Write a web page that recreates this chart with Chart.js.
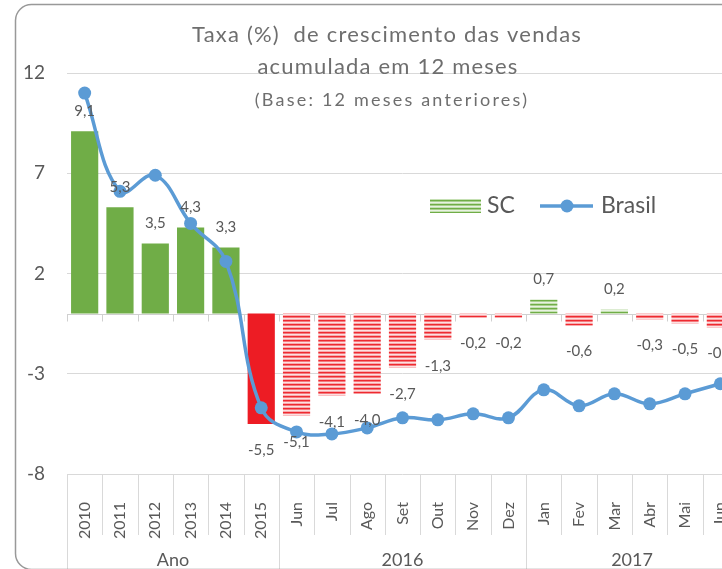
<!DOCTYPE html>
<html>
<head>
<meta charset="utf-8">
<title>Taxa de crescimento das vendas</title>
<script src="https://cdn.jsdelivr.net/npm/chart.js@4.4.0/dist/chart.umd.min.js"></script>
<style>
  html, body { margin: 0; padding: 0; background: #fff; overflow: hidden; }
  #wrap { position: relative; width: 752px; height: 575px; }
</style>
</head>
<body>
<div id="wrap"><canvas id="grafico"></canvas></div>
<script>
// categorias do eixo x e grupos (linha de baixo)
var categorias = ['2010', '2011', '2012', '2013', '2014', '2015',
  'Jun', 'Jul', 'Ago', 'Set', 'Out', 'Nov', 'Dez',
  'Jan', 'Fev', 'Mar', 'Abr', 'Mai', 'Jun'];
var grupos = ['Ano', '2016', '2017'];
var tamanhoGrupos = [6, 7, 6];

// series
var valoresSC = [9.1, 5.3, 3.5, 4.3, 3.3, -5.5, -5.1, -4.1, -4.0, -2.7, -1.3, -0.2, -0.2, 0.7, -0.6, 0.2, -0.3, -0.5, -0.7];
var valoresBrasil = [11.0, 6.1, 6.9, 4.5, 2.6, -4.7, -5.9, -6.0, -5.7, -5.2, -5.3, -5.0, -5.2, -3.8, -4.6, -4.0, -4.5, -4.0, -3.5];

// eixo y
var eixoMin = -8, eixoMax = 12, eixoPasso = 5;

var titulo = ['Taxa (%)  de crescimento das vendas', 'acumulada em 12 meses', '(Base: 12 meses anteriores)'];

var fonte = 'Lato, "Open Sans", sans-serif';
var cinza = '#595959';
var corVerde = '#70AD47';
var corVermelho = '#ED1C24';
var corBrasil = '#5B9BD5';

var canvas = document.getElementById('grafico');
var ctx = canvas.getContext('2d');

// listras horizontais (padrao do Excel)
function criaListras(cores) {
  var c = document.createElement('canvas');
  c.width = 4;
  c.height = cores.length;
  var g = c.getContext('2d');
  for (var i = 0; i < cores.length; i++) {
    g.fillStyle = cores[i];
    g.fillRect(0, i, 4, 1);
  }
  return ctx.createPattern(c, 'repeat');
}
var listraVerde = criaListras(['#70AD47', '#A9D08E', '#E8F2E1', '#C5E0B3']);
var listraVermelha = criaListras(['#EE2A30', '#F47A7E', '#FCE0E1', '#F8AAAD']);

// anos com cor cheia, meses com listras
var coresBarras = valoresSC.map(function(v, i) {
  if (i < tamanhoGrupos[0]) return v >= 0 ? corVerde : corVermelho;
  return v >= 0 ? listraVerde : listraVermelha;
});

function formata(v) {
  return v.toFixed(1).replace('.', ',');
}

var extras = {
  id: 'extras',
  beforeDatasetsDraw: function(chart) {
    var c = chart.ctx, a = chart.chartArea;
    var x = chart.scales.x, y = chart.scales.y;
    var y0 = Math.round(y.getPixelForValue(0)) + 0.5;
    var passo = x.getPixelForValue(1) - x.getPixelForValue(0);
    c.save();
    c.strokeStyle = '#D0D0D0';
    c.lineWidth = 1;
    c.beginPath();
    c.moveTo(a.left, y0);
    c.lineTo(a.right, y0);
    for (var i = 0; i <= categorias.length; i++) {
      var xb = Math.round(x.getPixelForValue(0) - passo / 2 + i * passo) + 0.5;
      c.moveTo(xb, y0);
      c.lineTo(xb, y0 + 7);
    }
    c.stroke();
    c.restore();
  },
  afterDatasetsDraw: function(chart) {
    var c = chart.ctx;
    var meta = chart.getDatasetMeta(1);
    c.save();
    c.fillStyle = cinza;
    c.font = '15px ' + fonte;
    c.textAlign = 'center';
    c.textBaseline = 'middle';
    meta.data.forEach(function(barra, i) {
      var v = valoresSC[i];
      var ty = v >= 0 ? barra.y - 20 : barra.y + 26;
      c.fillText(formata(v), barra.x, ty);
    });
    c.restore();
  },
  afterDraw: function(chart) {
    var c = chart.ctx, a = chart.chartArea;
    var x = chart.scales.x;
    var W = chart.width, H = chart.height;
    var passo = x.getPixelForValue(1) - x.getPixelForValue(0);
    var inicio = x.getPixelForValue(0) - passo / 2;
    c.save();

    // separadores do eixo x
    c.strokeStyle = '#D9D9D9';
    c.lineWidth = 1;
    var limites = [0];
    tamanhoGrupos.forEach(function(t) { limites.push(limites[limites.length - 1] + t); });
    c.beginPath();
    for (var i = 0; i <= categorias.length; i++) {
      var xb = Math.round(inicio + i * passo) + 0.5;
      var fim = limites.indexOf(i) >= 0 ? H - 6 : a.bottom + 61;
      c.moveTo(xb, a.bottom);
      c.lineTo(xb, fim);
    }
    c.stroke();

    // nomes dos grupos
    c.fillStyle = cinza;
    c.font = '18px ' + fonte;
    c.textAlign = 'center';
    c.textBaseline = 'middle';
    for (var g = 0; g < grupos.length; g++) {
      var xm = inicio + (limites[g] + limites[g + 1]) / 2 * passo;
      c.fillText(grupos[g], xm, H - 15);
    }

    // titulo
    c.fillStyle = '#6E6E6E';
    c.font = '22px ' + fonte;
    c.letterSpacing = '1.2px';
    c.fillText(titulo[0], 387, 35);
    c.fillText(titulo[1], 388, 67);
    c.font = '18px ' + fonte;
    c.letterSpacing = '2.2px';
    c.fillText(titulo[2], 392, 100);
    c.letterSpacing = '0px';

    // legenda
    var ly = 206;
    c.fillStyle = listraVerde;
    c.fillRect(430, ly - 7, 51, 14);
    c.fillStyle = cinza;
    c.font = '23px ' + fonte;
    c.textAlign = 'left';
    c.fillText('SC', 487, ly);
    c.strokeStyle = corBrasil;
    c.lineWidth = 3.5;
    c.beginPath();
    c.moveTo(540, ly);
    c.lineTo(593, ly);
    c.stroke();
    c.fillStyle = corBrasil;
    c.beginPath();
    c.arc(567, ly, 6.5, 0, Math.PI * 2);
    c.fill();
    c.fillStyle = cinza;
    c.fillText('Brasil', 601, ly);

    // moldura
    c.strokeStyle = '#999999';
    c.lineWidth = 1.5;
    c.beginPath();
    c.roundRect(15.5, 4.5, W - 24, H - 10, 16);
    c.stroke();
    c.restore();
  }
};

new Chart(ctx, {
  type: 'bar',
  data: {
    labels: categorias,
    datasets: [
      {
        type: 'line',
        label: 'Brasil',
        data: valoresBrasil,
        borderColor: corBrasil,
        backgroundColor: corBrasil,
        borderWidth: 3.5,
        pointRadius: 6.5,
        pointBorderWidth: 0,
        pointBackgroundColor: corBrasil,
        tension: 0.4,
        order: 0
      },
      {
        label: 'SC',
        data: valoresSC,
        backgroundColor: coresBarras,
        barPercentage: 0.77,
        categoryPercentage: 1,
        order: 1
      }
    ]
  },
  options: {
    responsive: true,
    maintainAspectRatio: false,
    animation: false,
    layout: { padding: { top: 73, right: 14, left: 0, bottom: 0 } },
    plugins: { legend: { display: false }, tooltip: { enabled: false } },
    scales: {
      x: {
        grid: { display: false, drawTicks: false },
        border: { display: false },
        ticks: {
          autoSkip: false, maxRotation: 90, minRotation: 90, padding: 28,
          color: cinza, font: { family: fonte, size: 16 }
        },
        afterFit: function(s) {
          s.height = 101;
          s.paddingLeft = 0;
          s.paddingRight = 0;
        }
      },
      y: {
        min: eixoMin,
        max: eixoMax,
        grid: { color: '#D9D9D9', drawTicks: false },
        border: { display: false },
        ticks: { stepSize: eixoPasso, padding: 22, color: cinza, font: { family: fonte, size: 19 } },
        afterFit: function(s) { s.width = 67; }
      }
    }
  },
  plugins: [extras]
});
</script>
</body>
</html>
